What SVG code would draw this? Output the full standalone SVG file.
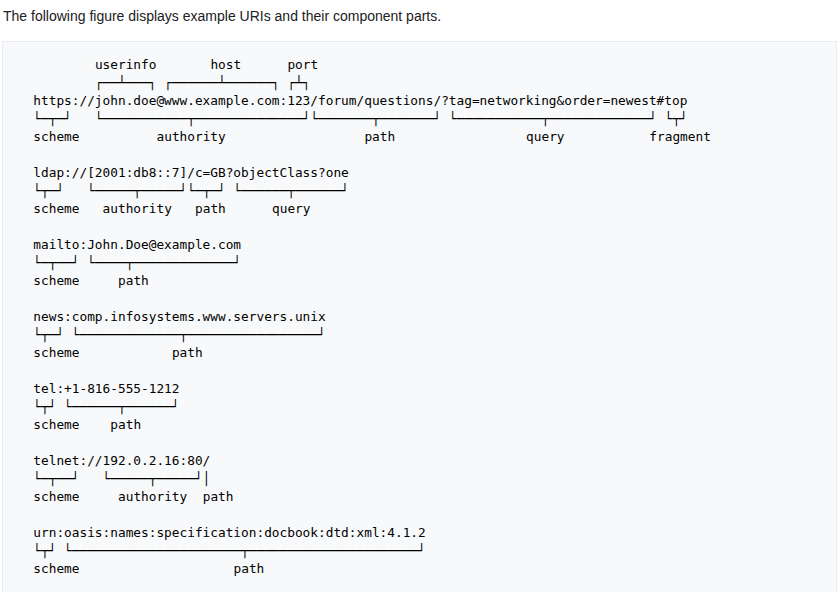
<svg xmlns="http://www.w3.org/2000/svg" width="837" height="592" viewBox="0 0 837 592">
<style>
.hd{font-family:"Liberation Sans",Arial,sans-serif;font-size:14px;fill:#202122}
.c{font-family:"DejaVu Sans Mono","Liberation Mono",monospace;font-size:12.79px;fill:#000;white-space:pre}
.b{font-family:"DejaVu Sans Mono","Liberation Mono",monospace;font-size:12.79px;fill:#000;white-space:pre}
</style>
<rect x="0" y="0" width="837" height="592" fill="#ffffff"/>
<text class="hd" x="3" y="21">The following figure displays example URIs and their component parts.</text>
<rect x="2.5" y="41.5" width="834" height="560" fill="#f8f9fa" stroke="#eaecf0" stroke-width="1"/>

<g id="uri-https">
  <text class="c" y="69"><tspan x="94.9">userinfo</tspan><tspan x="210.4">host</tspan><tspan x="287.4">port</tspan></text>
  <text class="c" x="33.3" y="105">https://john.doe@www.example.com:123/forum/questions/?tag=networking&amp;order=newest#top</text>
  <text class="c" y="141"><tspan x="33.3">scheme</tspan><tspan x="156.5">authority</tspan><tspan x="364.4">path</tspan><tspan x="526.1">query</tspan><tspan x="649.3">fragment</tspan></text>
</g>
<g id="uri-ldap">
  <text class="c" x="33.3" y="177">ldap://[2001:db8::7]/c=GB?objectClass?one</text>
  <text class="c" y="213"><tspan x="33.3">scheme</tspan><tspan x="102.6">authority</tspan><tspan x="195">path</tspan><tspan x="272">query</tspan></text>
</g>
<g id="uri-mailto">
  <text class="c" x="33.3" y="249">mailto:John.Doe@example.com</text>
  <text class="c" y="285"><tspan x="33.3">scheme</tspan><tspan x="118">path</tspan></text>
</g>
<g id="uri-news">
  <text class="c" x="33.3" y="321">news:comp.infosystems.www.servers.unix</text>
  <text class="c" y="357"><tspan x="33.3">scheme</tspan><tspan x="171.9">path</tspan></text>
</g>
<g id="uri-tel">
  <text class="c" x="33.3" y="393">tel:+1-816-555-1212</text>
  <text class="c" y="429"><tspan x="33.3">scheme</tspan><tspan x="110.3">path</tspan></text>
</g>
<g id="uri-telnet">
  <text class="c" x="33.3" y="465">telnet://192.0.2.16:80/</text>
  <text class="c" y="501"><tspan x="33.3">scheme</tspan><tspan x="118">authority</tspan><tspan x="202.7">path</tspan></text>
</g>
<g id="uri-urn">
  <text class="c" x="33.3" y="537">urn:oasis:names:specification:docbook:dtd:xml:4.1.2</text>
  <text class="c" y="573"><tspan x="33.3">scheme</tspan><tspan x="233.5">path</tspan></text>
</g>

<g id="connectors">
  <text class="b" y="87"><tspan x="94.9">┌──┴───┐</tspan><tspan x="164.2">┌──────┴──────┐</tspan><tspan x="287.4">┌┴┐</tspan></text>
  <text class="b" y="123"><tspan x="33.3">└─┬─┘</tspan><tspan x="94.9">└───────────┬──────────────┘</tspan><tspan x="310.5">└───────┬───────┘</tspan><tspan x="449.1">└───────────┬─────────────┘</tspan><tspan x="664.7">└┬┘</tspan></text>
  <text class="b" y="195"><tspan x="33.3">└┬─┘</tspan><tspan x="87.2">└─────┬─────┘</tspan><tspan x="187.3">└─┬─┘</tspan><tspan x="233.5">└──────┬──────┘</tspan></text>
  <text class="b" y="267"><tspan x="33.3">└─┬──┘</tspan><tspan x="87.2">└────┬─────────────┘</tspan></text>
  <text class="b" y="339"><tspan x="33.3">└┬─┘</tspan><tspan x="71.8">└─────────────┬─────────────────┘</tspan></text>
  <text class="b" y="411"><tspan x="33.3">└┬┘</tspan><tspan x="64.1">└──────┬──────┘</tspan></text>
  <text class="b" y="483"><tspan x="33.3">└─┬──┘</tspan><tspan x="102.6">└─────┬─────┘</tspan><tspan x="202.7">│</tspan></text>
  <text class="b" y="555"><tspan x="33.3">└┬┘</tspan><tspan x="64.1">└──────────────────────┬──────────────────────┘</tspan></text>
</g>
</svg>
